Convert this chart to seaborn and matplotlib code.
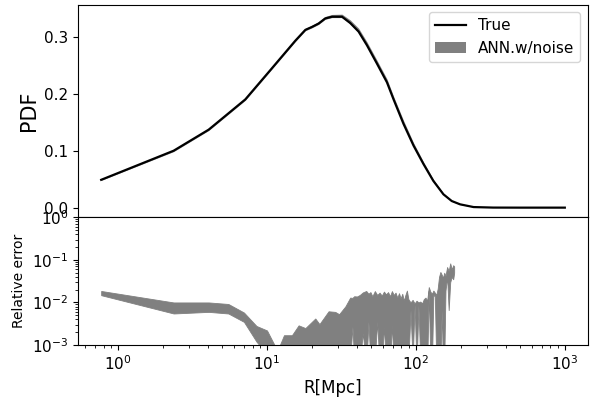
import numpy as np
import pandas as pd
import matplotlib
matplotlib.use("Agg")
import matplotlib.pyplot as plt
import seaborn as sns

# ---- data ----
top_r = [0.77, 2.36, 4.06, 7.15, 10.5, 15.5, 18.1, 20.0, 22.2, 24.6, 27.3, 31.9,
         36.2, 41.2, 46.9, 54.7, 63.9, 70.8, 82.6, 96.4, 112.5, 131, 153, 174,
         198, 244, 331, 500, 1000]
pdf_true = [0.049, 0.100, 0.137, 0.190, 0.241, 0.293, 0.312, 0.317, 0.323, 0.332,
            0.335, 0.335, 0.324, 0.309, 0.285, 0.253, 0.220, 0.190, 0.147, 0.109,
            0.0765, 0.047, 0.0236, 0.0118, 0.006, 0.0012, 0.0003, 0.0002, 0.0002]
ann_lo = [0.048, 0.0985, 0.1355, 0.1885, 0.2395, 0.2915, 0.3105, 0.3155, 0.3215,
          0.3305, 0.3335, 0.3335, 0.3225, 0.3075, 0.2835, 0.2515, 0.2185, 0.1885,
          0.1455, 0.1075, 0.0752, 0.0460, 0.0228, 0.0112, 0.0056, 0.0010, 0.0003,
          0.0002, 0.0002]
ann_hi = [0.0505, 0.1015, 0.1385, 0.1915, 0.2425, 0.2950, 0.3145, 0.3200, 0.3265,
          0.3355, 0.3390, 0.3395, 0.3295, 0.3150, 0.2910, 0.2590, 0.2260, 0.1955,
          0.1530, 0.1140, 0.0805, 0.0500, 0.0255, 0.0128, 0.0065, 0.0014, 0.0003,
          0.0002, 0.0002]

err_r = [0.77, 2.36, 4.06, 5.5, 7.0, 8.5, 10.0, 11.4, 12.2, 13.0, 14.7, 16.3, 18.1,
         21.1, 22.5, 25.9, 28.7, 30.5, 33.6, 36.2, 37.5, 38.5, 40.2, 42.0, 44.0,
         46.4, 48.0, 49.5, 51.0, 53.0, 55.0, 57.0, 59.0, 61.0, 63.0, 65.0, 67.0,
         69.0, 71.0, 73.0, 75.0, 77.0, 79.0, 81.0, 83.0, 85.0, 87.0, 89.0, 92.0,
         95.0, 98.0, 101.0, 104.0, 107.0, 110.0, 113.0, 116.0, 119.0, 122.0,
         125.0, 128.0, 131.0, 134.0, 137.0, 140.0, 143.0, 146.0, 149.0, 152.0,
         155.0, 158.0, 162.0, 166.0, 170.0, 174.0, 178.0, 180.7]
err_hi = [0.0186, 0.0100, 0.0100, 0.0092, 0.0058, 0.0028, 0.0022, 0.0009, 0.0010,
          0.0017, 0.0017, 0.0029, 0.0025, 0.0042, 0.0031, 0.0062, 0.0060, 0.0053,
          0.0081, 0.0130, 0.0128, 0.0140, 0.0138, 0.0150, 0.0172, 0.0186, 0.0160,
          0.0175, 0.0140, 0.0185, 0.0150, 0.0170, 0.0145, 0.0180, 0.0155, 0.0175,
          0.0140, 0.0185, 0.0150, 0.0170, 0.0130, 0.0165, 0.0125, 0.0160, 0.0110,
          0.0150, 0.0190, 0.0120, 0.0100, 0.0115, 0.0095, 0.0110, 0.0100, 0.0105,
          0.0095, 0.0120, 0.0130, 0.0110, 0.0230, 0.0180, 0.0160, 0.0190, 0.0170,
          0.0150, 0.0210, 0.0400, 0.0520, 0.0450, 0.0380, 0.0500, 0.0420, 0.0680,
          0.0550, 0.0830, 0.0600, 0.0750, 0.0700]
err_lo = [0.0148, 0.0055, 0.0060, 0.0055, 0.0035, 0.0012, 0.0006, 0.0003, 0.0003,
          0.0004, 0.0004, 0.0005, 0.0004, 0.0005, 0.0004, 0.0005, 0.0004, 0.0003,
          0.0004, 0.0005, 0.0027, 0.0004, 0.0003, 0.0004, 0.0019, 0.0003, 0.0035,
          0.0004, 0.0003, 0.0005, 0.0035, 0.0003, 0.0004, 0.0027, 0.0003, 0.0005,
          0.0004, 0.0030, 0.0003, 0.0004, 0.0005, 0.0003, 0.0004, 0.0003, 0.0005,
          0.0004, 0.0003, 0.0004, 0.0066, 0.0004, 0.0090, 0.0003, 0.0085, 0.0004,
          0.0003, 0.0005, 0.0004, 0.0003, 0.0190, 0.0004, 0.0003, 0.0150, 0.0140,
          0.0004, 0.0005, 0.0003, 0.0004, 0.0066, 0.0003, 0.0004, 0.0190, 0.0400,
          0.0066, 0.0300, 0.0400, 0.0350, 0.0500]

top_df = pd.DataFrame({"R": top_r, "PDF": pdf_true})

fig = plt.figure(figsize=(6.0, 4.0), dpi=99.5)
gs = fig.add_gridspec(2, 1, height_ratios=[5, 3], hspace=0,
                      left=78 / 597, right=588 / 597,
                      top=1 - 4.5 / 398, bottom=1 - 345 / 398)
ax1 = fig.add_subplot(gs[0])
ax2 = fig.add_subplot(gs[1], sharex=ax1)

ax1.fill_between(top_r, ann_lo, ann_hi, color="gray", lw=0, label="ANN.w/noise")
sns.lineplot(data=top_df, x="R", y="PDF", color="black", lw=1.6, ax=ax1,
             label="True")
ax1.set_xscale("log")
ax1.set_ylabel("PDF", fontsize=15)
ax1.set_xlabel("")
ax1.tick_params(labelbottom=False, labelsize=11)
ax1.set_yticks([0.0, 0.1, 0.2, 0.3])
h, l = ax1.get_legend_handles_labels()
order = [l.index("True"), l.index("ANN.w/noise")]
ax1.legend([h[i] for i in order], [l[i] for i in order], loc="upper right",
           fontsize=11)

ax2.fill_between(err_r, err_lo, err_hi, color="gray", lw=0.6, edgecolor="gray")
ax2.set_yscale("log")
ax2.set_ylim(1e-3, 1)
ax2.set_ylabel("Relative error", fontsize=10)
ax2.set_xlabel("R[Mpc]", fontsize=12)
ax2.tick_params(labelsize=11)

fig.savefig("out.png", dpi=99.5)
